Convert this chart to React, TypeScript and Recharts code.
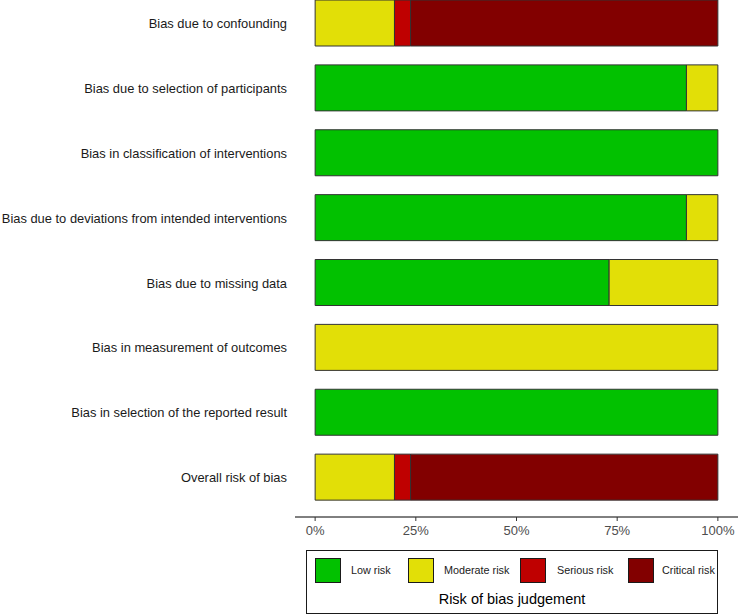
import { BarChart, Bar, XAxis, YAxis, Legend } from 'recharts';

const domains = [
  "Bias due to confounding",
  "Bias due to selection of participants",
  "Bias in classification of interventions",
  "Bias due to deviations from intended interventions",
  "Bias due to missing data",
  "Bias in measurement of outcomes",
  "Bias in selection of the reported result",
  "Overall risk of bias",
];

// percent of studies per judgement
const lowRisk = [0, 92.2, 100, 92.2, 73.0, 0, 100, 0];
const moderateRisk = [19.7, 7.8, 0, 7.8, 27.0, 100, 0, 19.7];
const seriousRisk = [4.0, 0, 0, 0, 0, 0, 0, 4.0];
const criticalRisk = [76.3, 0, 0, 0, 0, 0, 0, 76.3];

const judgements = ["Low risk", "Moderate risk", "Serious risk", "Critical risk"];
const xTicks = [0, 25, 50, 75, 100];

const data = domains.map((d, i) => ({
  domain: d,
  low: lowRisk[i],
  moderate: moderateRisk[i],
  serious: seriousRisk[i],
  critical: criticalRisk[i],
}));

const FONT = '"Liberation Sans", Arial, sans-serif';

// key square / label positions inside the legend box
const keyLeft = [8, 101, 213, 321];
const labelLeft = [44, 137, 250, 355];

const RobLegend = ({ payload }: { payload?: Array<{ value: string; color: string }> }) => {
  const items = judgements.map((j) => (payload || []).find((p) => p.value === j)).filter(Boolean) as Array<{ value: string; color: string }>;
  return (
    <div style={{ position: 'relative', width: 412, height: 64, border: '1px solid #1a1a1a', boxSizing: 'border-box', fontFamily: FONT, background: '#fff' }}>
      {items.map((entry, i) => (
        <div key={entry.value}>
          <div style={{ position: 'absolute', left: keyLeft[i], top: 7, width: 26, height: 25, background: entry.color, border: '1px solid #1a1a1a', boxSizing: 'border-box' }} />
          <span style={{ position: 'absolute', left: labelLeft[i], top: 13, fontSize: 10.8, lineHeight: '13px', color: '#1a1a1a', whiteSpace: 'nowrap' }}>{entry.value}</span>
        </div>
      ))}
      <div style={{ position: 'absolute', left: 0, right: 0, top: 40, textAlign: 'center', fontSize: 14.5, lineHeight: '17px', color: '#000', whiteSpace: 'nowrap' }}>
        Risk of bias judgement
      </div>
    </div>
  );
};

const DomainTick = ({ x, y, payload }: { x?: number; y?: number; payload?: { value: string } }) => (
  <text x={x} y={y} dy="0.355em" textAnchor="end" fill="#1a1a1a" fontSize={12.9} fontFamily={FONT}>
    {payload?.value}
  </text>
);

export default function App() {
  return (
    <div style={{ position: 'absolute', left: 0, top: -9, width: 739, height: 624, background: '#fff' }}>
      <BarChart
        width={739}
        height={624}
        data={data}
        layout="vertical"
        margin={{ top: 0, right: 1, bottom: 68, left: 0 }}
      >
        <XAxis
          type="number"
          domain={[-5, 105]}
          ticks={xTicks}
          allowDataOverflow
          tickFormatter={(v) => `${v}%`}
          tick={{ fill: '#4d4d4d', fontSize: 13, fontFamily: FONT }}
          axisLine={{ stroke: '#000' }}
          tickLine={{ stroke: '#333' }}
          tickSize={4}
          tickMargin={5}
          height={30}
        />
        <YAxis
          type="category"
          dataKey="domain"
          width={295}
          axisLine={false}
          tickLine={false}
          tick={<DomainTick />}
          padding={{ top: 0, bottom: 7 }}
          interval={0}
        />
        <Legend
          verticalAlign="middle"
          align="center"
          content={<RobLegend />}
          wrapperStyle={{ position: 'absolute', left: 306, top: 559, width: 412, height: 64 }}
        />
        <Bar dataKey="low" name="Low risk" stackId="rob" fill="#02C100" stroke="#333" strokeWidth={1} barSize={46} isAnimationActive={false} />
        <Bar dataKey="moderate" name="Moderate risk" stackId="rob" fill="#E2DF07" stroke="#333" strokeWidth={1} barSize={46} isAnimationActive={false} />
        <Bar dataKey="serious" name="Serious risk" stackId="rob" fill="#BF0000" stroke="#333" strokeWidth={1} barSize={46} isAnimationActive={false} />
        <Bar dataKey="critical" name="Critical risk" stackId="rob" fill="#820000" stroke="#333" strokeWidth={1} barSize={46} isAnimationActive={false} />
      </BarChart>
    </div>
  );
}
